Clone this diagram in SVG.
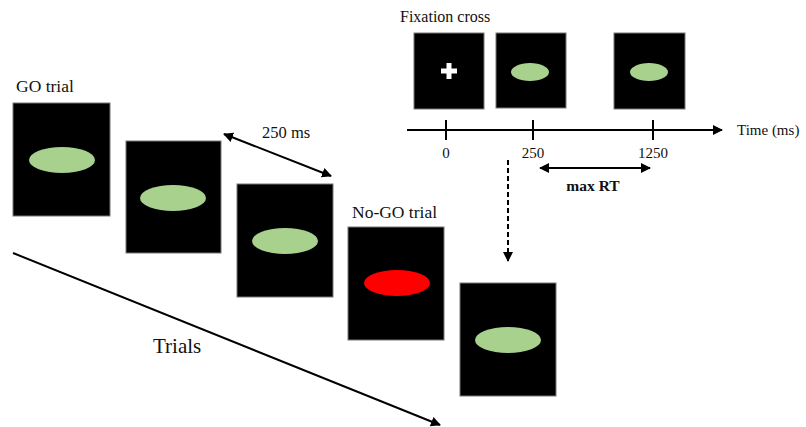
<svg xmlns="http://www.w3.org/2000/svg" width="806" height="427" viewBox="0 0 806 427">
<style>
.card{fill:#000;stroke:#777;stroke-width:1}
.go{fill:#a9d18e}
.nogo{fill:#ff0000}
.ln{stroke:#000;stroke-width:2;fill:none}
</style>
<defs>
<marker id="ah" viewBox="0 0 10 10" refX="9" refY="5" markerWidth="5" markerHeight="5" orient="auto-start-reverse" markerUnits="strokeWidth">
<path d="M0,0 L10,5 L0,10 z" fill="#000"/>
</marker>
</defs>
<rect width="806" height="427" fill="#fff"/>

<g id="connectors">
<line class="ln" x1="407" y1="130" x2="722" y2="130" marker-end="url(#ah)"/>
<line class="ln" x1="446" y1="120" x2="446" y2="140"/>
<line class="ln" x1="533" y1="120" x2="533" y2="140"/>
<line class="ln" x1="653" y1="120" x2="653" y2="140"/>
<line class="ln" x1="540" y1="168" x2="650" y2="168" marker-start="url(#ah)" marker-end="url(#ah)"/>
<line class="ln" x1="508" y1="160" x2="508" y2="261" stroke-dasharray="5,3" marker-end="url(#ah)"/>
<line class="ln" x1="224" y1="134" x2="331" y2="176" marker-start="url(#ah)" marker-end="url(#ah)"/>
<line class="ln" x1="13" y1="253" x2="440" y2="425" marker-end="url(#ah)"/>
</g>

<g id="fix-card">
<rect class="card" x="414" y="33" width="70" height="76"/>
<rect x="441" y="68.5" width="16" height="5" fill="#fff"/>
<rect x="446.5" y="63" width="5" height="16" fill="#fff"/>
</g>
<g id="stim-card-250">
<rect class="card" x="496" y="33" width="70" height="75"/>
<ellipse class="go" cx="530" cy="72" rx="19" ry="9"/>
</g>
<g id="stim-card-1250">
<rect class="card" x="614" y="33" width="71" height="76"/>
<ellipse class="go" cx="649" cy="72" rx="19" ry="9"/>
</g>

<g id="go-card-1">
<rect class="card" x="13" y="103" width="97" height="113"/>
<ellipse class="go" cx="62" cy="160" rx="33" ry="13"/>
</g>
<g id="go-card-2">
<rect class="card" x="126" y="141" width="95" height="112"/>
<ellipse class="go" cx="173" cy="198" rx="33" ry="13"/>
</g>
<g id="go-card-3">
<rect class="card" x="237" y="184" width="96" height="113"/>
<ellipse class="go" cx="285" cy="241" rx="33" ry="13"/>
</g>
<g id="nogo-card">
<rect class="card" x="348" y="227" width="96" height="113"/>
<ellipse class="nogo" cx="397" cy="283" rx="33" ry="13"/>
</g>
<g id="go-card-5">
<rect class="card" x="460" y="283" width="96" height="113"/>
<ellipse class="go" cx="508" cy="340" rx="33" ry="13"/>
</g>

<g id="labels" font-family="'Liberation Serif', 'DejaVu Serif', serif" fill="#111">
<text x="400" y="22" font-size="16">Fixation cross</text>
<text x="737" y="135" font-size="15">Time (ms)</text>
<text x="446" y="158" font-size="15" text-anchor="middle">0</text>
<text x="533" y="158" font-size="15" text-anchor="middle">250</text>
<text x="653" y="158" font-size="15" text-anchor="middle">1250</text>
<text x="593" y="191" font-size="15.5" font-weight="bold" text-anchor="middle">max RT</text>
<text x="16" y="92" font-size="17.5">GO trial</text>
<text x="262" y="138" font-size="16.5">250 ms</text>
<text x="352" y="218" font-size="17.5">No-GO trial</text>
<text x="153" y="353" font-size="21">Trials</text>
</g>
</svg>
